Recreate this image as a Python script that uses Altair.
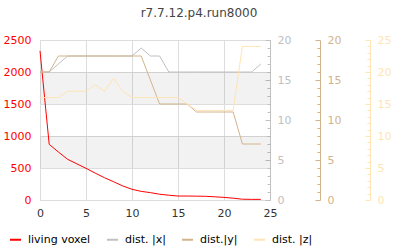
import altair as alt
import pandas as pd

steps = list(range(25))
living = [2330, 870, 750, 636, 565, 495, 420, 349, 285, 219, 167, 135, 115, 90, 75,
          62, 62, 60, 58, 50, 41, 28, 12, 10, 10]
dist_x = [16, 16, 17, 18, 18, 18, 18, 18, 18, 18, 18, 19, 18, 18, 16,
          16, 16, 16, 16, 16, 16, 16, 16, 16, 17]
dist_y = [16, 16, 18, 18, 18, 18, 18, 18, 18, 18, 18, 18, 15, 12, 12,
          12, 12, 11, 11, 11, 11, 11, 7, 7, 7]
dist_z = [16, 16, 16, 17, 17, 17, 18, 17, 19, 17, 16, 16, 16, 16, 16,
          16, 15, 14, 14, 14, 14, 14, 24, 24, 24]
band_lo = [500, 1500]
band_hi = [1000, 2000]
x_ticks = [0, 5, 10, 15, 20, 25]
y_ticks = [0, 500, 1000, 1500, 2000, 2500]
series_names = ["living voxel", "dist. |x|", "dist.|y|", "dist. |z|"]
series_colors = ["#ff0000", "#c0c0c0", "#d2b48c", "#ffe4b5"]

df = pd.DataFrame({"step": steps, "living": living, "dx": dist_x,
                   "dy": dist_y, "dz": dist_z})
bands = pd.DataFrame({"lo": band_lo, "hi": band_hi})

FONT = "DejaVu Sans"
color_scale = alt.Scale(domain=series_names, range=series_colors)
legend = alt.Legend(orient="none", legendX=-31, legendY=193, direction="horizontal",
                    symbolType="stroke", symbolStrokeWidth=2, symbolSize=121,
                    labelFontSize=11, labelColor="#000", labelFont=FONT,
                    columnPadding=12, labelOffset=6, title=None, padding=0)

xenc = alt.X("step:Q", scale=alt.Scale(domain=[0, 25], nice=False),
             axis=alt.Axis(values=x_ticks, ticks=False, domain=False, grid=True,
                           gridColor="#dddddd", labelColor="#333333", labelFontSize=11,
                           labelPadding=7, labelFlush=False, title=None))

band_layer = alt.Chart(bands).mark_rect(color="#000000", opacity=0.05).encode(
    y=alt.Y("lo:Q", scale=alt.Scale(domain=[0, 2500], nice=False), axis=None),
    y2="hi:Q",
    x=alt.value(0), x2=alt.value(230))


def color_enc():
    return alt.Color("series:N", scale=color_scale, legend=legend)


red = alt.Chart(df).transform_calculate(series="'living voxel'").mark_line(
    strokeWidth=1).encode(
    x=xenc,
    y=alt.Y("living:Q", scale=alt.Scale(domain=[0, 2500], nice=False),
            axis=alt.Axis(values=y_ticks, format="d", ticks=False, domain=False,
                          grid=True, gridColor="#dddddd", labelColor="#ff0000",
                          labelFontSize=11, labelPadding=9, title=None)),
    color=color_enc())


def sec_axis(vals, col, offset):
    return alt.Axis(orient="left", offset=offset, values=vals,
                    labelExpr="datum.value % 5 === 0 ? datum.label : ''",
                    labelOverlap=False, labelAlign="left", labelPadding=-12,
                    tickSize={"condition": {"test": "datum.value % 5 === 0", "value": 5},
                              "value": 3},
                    tickColor=col, domainColor=col, labelColor=col, grid=False,
                    title=None, labelFontSize=11, labelFont=FONT)


def sec_layer(field, name, col, top, offset):
    return alt.Chart(df).transform_calculate(series=f"'{name}'").mark_line(
        strokeWidth=1).encode(
        x=xenc,
        y=alt.Y(f"{field}:Q", scale=alt.Scale(domain=[0, top], nice=False),
                axis=sec_axis(list(range(0, top + 1)), col, offset)),
        color=color_enc())


gray = sec_layer("dx", "dist. |x|", series_colors[1], 20, -230)
brown = sec_layer("dy", "dist.|y|", series_colors[2], 20, -280)
yellow = sec_layer("dz", "dist. |z|", series_colors[3], 25, -330)

chart = alt.layer(band_layer, red, gray, brown, yellow).resolve_scale(
    y="independent"
).properties(
    width=230, height=160, autosize="none",
    padding={"left": 40, "top": 40, "right": 130, "bottom": 50},
    title=alt.Title("r7.7.12.p4.run8000", fontSize=12, font=FONT, color="#444444",
                    fontWeight="normal", dx=44, offset=14),
).configure(font=FONT).configure_view(stroke="#dddddd")

chart.save("out.html", embed_options={"renderer": "svg", "actions": False})
